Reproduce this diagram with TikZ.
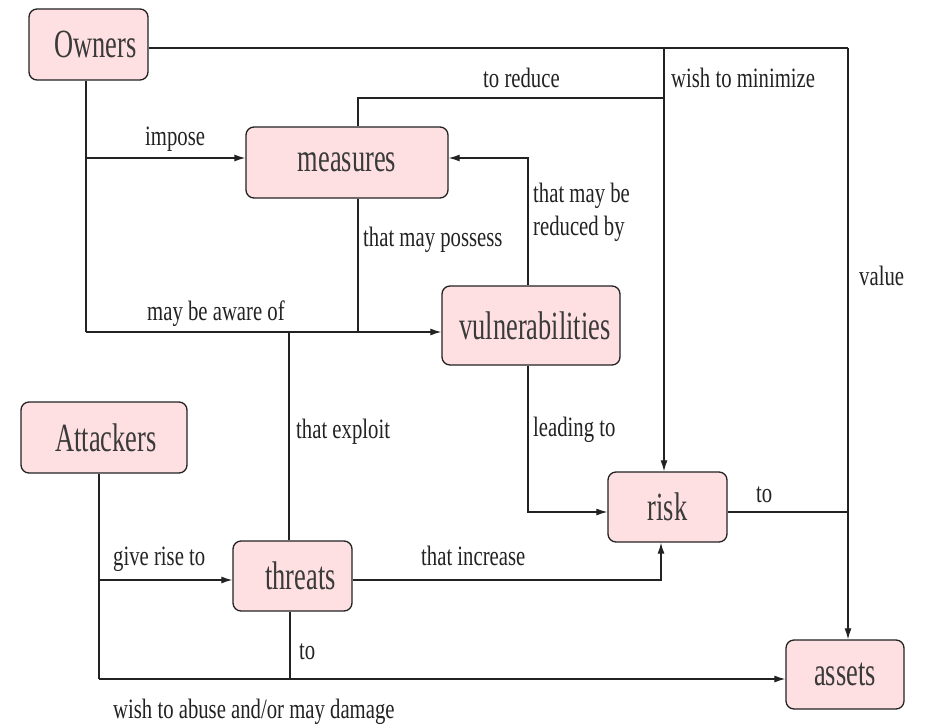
\documentclass[tikz,border=0pt]{standalone}
\usepackage{fontspec}
\usepackage{graphicx}
\setmainfont{Liberation Serif}
\usetikzlibrary{arrows.meta}
\definecolor{boxfill}{HTML}{FFE0E2}
\definecolor{ink}{HTML}{222222}
\definecolor{boxtext}{HTML}{3A3A3A}
\newcommand\nodetext[1]{\scalebox{0.66}[1]{#1}}
\newcommand\lbltext[1]{\scalebox{0.74}[1]{#1}}
\begin{document}
\begin{tikzpicture}[x=1pt,y=-1pt,
  concept/.style={draw=ink, line width=1.3pt, fill=boxfill, rounded corners=8pt,
    inner sep=0pt, text=boxtext, font=\fontsize{40}{42}\selectfont},
  link/.style={draw=ink, line width=1.2pt},
  arr/.style={link, -{Latex[length=11pt,width=7pt]}},
  lbl/.style={anchor=base west, inner sep=0pt, text=ink, font=\fontsize{28}{33}\selectfont}]
\useasboundingbox (0,0) rectangle (931,725);

% concepts
\node[concept, minimum width=119pt, minimum height=71pt] (owners) at (88.5,44.5) {\hspace*{14pt}\nodetext{Owners}};
\node[concept, minimum width=202pt, minimum height=71pt] (measures) at (347,162.5) {\nodetext{measures}};
\node[concept, minimum width=178pt, minimum height=79pt] (vuln) at (531,325.5) {\hspace*{8pt}\nodetext{vulnerabilities}};
\node[concept, minimum width=166pt, minimum height=71pt] (attackers) at (104,437.5) {\hspace*{4pt}\nodetext{Attackers}};
\node[concept, minimum width=119pt, minimum height=70pt] (threats) at (292.5,576) {\hspace*{16pt}\nodetext{threats}};
\node[concept, minimum width=119pt, minimum height=70pt] (risk) at (667.5,507) {\nodetext{risk}};
\node[concept, minimum width=118pt, minimum height=69pt] (assets) at (845,674.5) {\nodetext{assets}};

% junction points of the connectors
\coordinate (valueTop) at (848,48);
\coordinate (minTop) at (664,48);
\coordinate (reduceBend) at (358,98);
\coordinate (ownersFoot) at (86,332);
\coordinate (imposeJoin) at (86,158);
\coordinate (reducedBend) at (528,158);
\coordinate (exploitJoin) at (289,332);
\coordinate (attackersFoot) at (99,679);
\coordinate (riseJoin) at (99,580);
\coordinate (damageJoin) at (290,679);
\coordinate (increaseBend) at (661,580);
\coordinate (leadBend) at (528,512);
\coordinate (riskJoin) at (848,512);

% Owners value assets / wish to minimize risk
\draw[link] (owners.east |- valueTop) -- (valueTop);
\draw[arr] (valueTop) -- (assets.north -| valueTop);
\draw[arr] (minTop) -- (risk.north -| minTop);
% measures to reduce risk
\draw[link] (measures.north -| reduceBend) -- (reduceBend) -- (reduceBend -| minTop);
% Owners impose measures / may be aware of vulnerabilities
\draw[link] (owners.south -| ownersFoot) -- (ownersFoot);
\draw[arr] (imposeJoin) -- (measures.west |- imposeJoin);
\draw[arr] (ownersFoot) -- (vuln.west |- ownersFoot);
\draw[link] (measures.south -| reduceBend) -- (reduceBend |- ownersFoot);
% vulnerabilities that may be reduced by measures
\draw[arr] (vuln.north -| reducedBend) -- (reducedBend) -- (measures.east |- reducedBend);
% threats that exploit vulnerabilities
\draw[link] (threats.north -| exploitJoin) -- (exploitJoin);
% Attackers
\draw[link] (attackers.south -| attackersFoot) -- (attackersFoot);
\draw[arr] (riseJoin) -- (threats.west |- riseJoin);
\draw[arr] (attackersFoot) -- (assets.west |- attackersFoot);
\draw[link] (threats.south -| damageJoin) -- (damageJoin);
% threats that increase risk
\draw[arr] (threats.east |- increaseBend) -- (increaseBend) -- (risk.south -| increaseBend);
% vulnerabilities leading to risk
\draw[arr] (vuln.south -| leadBend) -- (leadBend) -- (risk.west |- leadBend);
% risk to assets
\draw[link] (risk.east |- riskJoin) -- (riskJoin);

% connector labels
\node[lbl] (lImpose) at (145,145) {\lbltext{impose}};
\node[lbl] (lAware) at (147,320) {\lbltext{may be aware of}};
\node[lbl] (lPossess) at (363,246) {\lbltext{that may possess}};
\node[lbl] (lReduce) at (483,88) {\lbltext{to reduce}};
\node[lbl] (lMinimize) at (671,88) {\lbltext{wish to minimize}};
\node[lbl] (lReducedA) at (533,202) {\lbltext{that may be}};
\node[lbl] (lReducedB) at (533,235) {\lbltext{reduced by}};
\node[lbl] (lValue) at (859,285) {\lbltext{value}};
\node[lbl] (lExploit) at (296,438) {\lbltext{that exploit}};
\node[lbl] (lLeading) at (533,436) {\lbltext{leading to}};
\node[lbl] (lRise) at (113,565) {\lbltext{give rise to}};
\node[lbl] (lIncrease) at (421,565) {\lbltext{that increase}};
\node[lbl] (lRiskTo) at (756,502) {\lbltext{to}};
\node[lbl] (lThreatTo) at (299,659) {\lbltext{to}};
\node[lbl] (lDamage) at (113,718) {\lbltext{wish to abuse and/or may damage}};
\end{tikzpicture}
\end{document}
